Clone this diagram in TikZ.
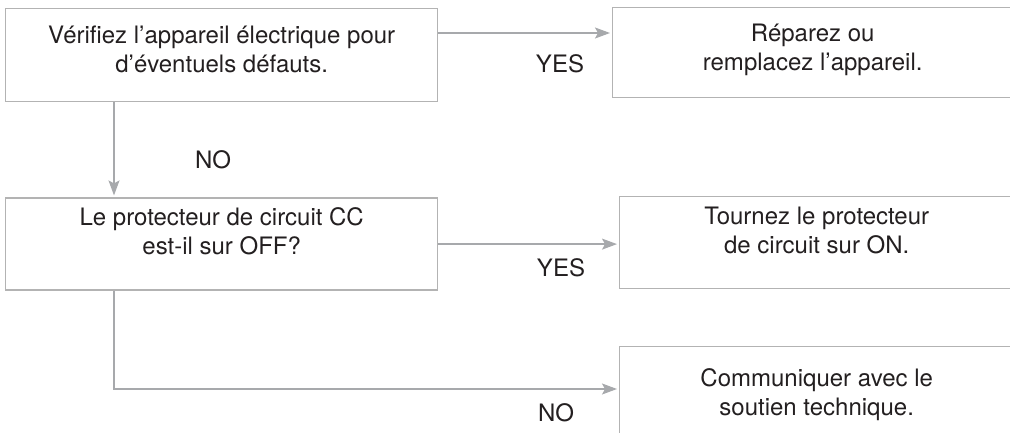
\documentclass[tikz,border=0pt]{standalone}
\usepackage{fontspec}
\setmainfont{TeX Gyre Heros}
\usetikzlibrary{positioning, arrows.meta}
\definecolor{boxgray}{HTML}{B3B3B3}
\definecolor{linegray}{HTML}{A7A9AC}
\definecolor{textgray}{HTML}{231F20}

\begin{document}
\begin{tikzpicture}[
    x=1pt, y=-1pt,
    every node/.style={font=\fontsize{24}{29}\selectfont, text=textgray},
    box/.style={rectangle, draw=boxgray, line width=1.4pt, inner sep=0pt, align=center},
    arrow_pointer/.style={draw=linegray, line width=1.3pt, -{Stealth[length=15pt, width=11pt, inset=3pt]}, shorten >=2pt},
    answer/.style={inner sep=0pt}]

    \useasboundingbox (0,0) rectangle (1010,433);
    \clip (0,0) rectangle (1010,433);

    % Questions
    \node[box, minimum width=432pt, text height=64pt, text depth=29pt, anchor=north west] (check) at (5,8) {Vérifiez l’appareil électrique pour\\d’éventuels défauts.};
    \node[box, minimum width=432pt, text height=56pt, text depth=36pt, below=95pt of check] (question) {Le protecteur de circuit CC\\est-il sur OFF?};

    % Answers
    \node[box, minimum width=400pt, text height=63pt, text depth=27pt, anchor=north west] (repair) at (612,7) {Réparez ou\\remplacez l’appareil.};
    \node[box, minimum width=394pt, text height=57pt, text depth=35pt, anchor=north west] (turnon) at (619,196) {Tournez le protecteur\\de circuit sur ON.};
    \node[box, minimum width=394pt, text height=69pt, text depth=31pt, anchor=north west] (support) at (619,346) {Communiquer avec le\\soutien technique.};

    % YES branches
    \coordinate (check_out) at ([yshift=-25pt]check.north east);
    \draw[arrow_pointer] (check_out) -- (check_out -| repair.west);
    \node[answer] (yes0) at (560,64) {YES};

    \draw[arrow_pointer] (question.east) -- (question.east -| turnon.west);
    \node[answer] (yes1) at (561,268) {YES};

    % NO branches
    \coordinate (check_down) at ([xshift=109pt]check.south west);
    \draw[arrow_pointer] (check_down) -- (check_down |- question.north);
    \node[answer] (no0) at (213,160) {NO};

    \coordinate (question_down) at ([xshift=109pt]question.south west);
    \coordinate (support_in) at ([yshift=-43pt]support.north west);
    \draw[arrow_pointer] (question_down) |- (support_in);
    \node[answer] (no1) at (556,413) {NO};

\end{tikzpicture}
\end{document}
